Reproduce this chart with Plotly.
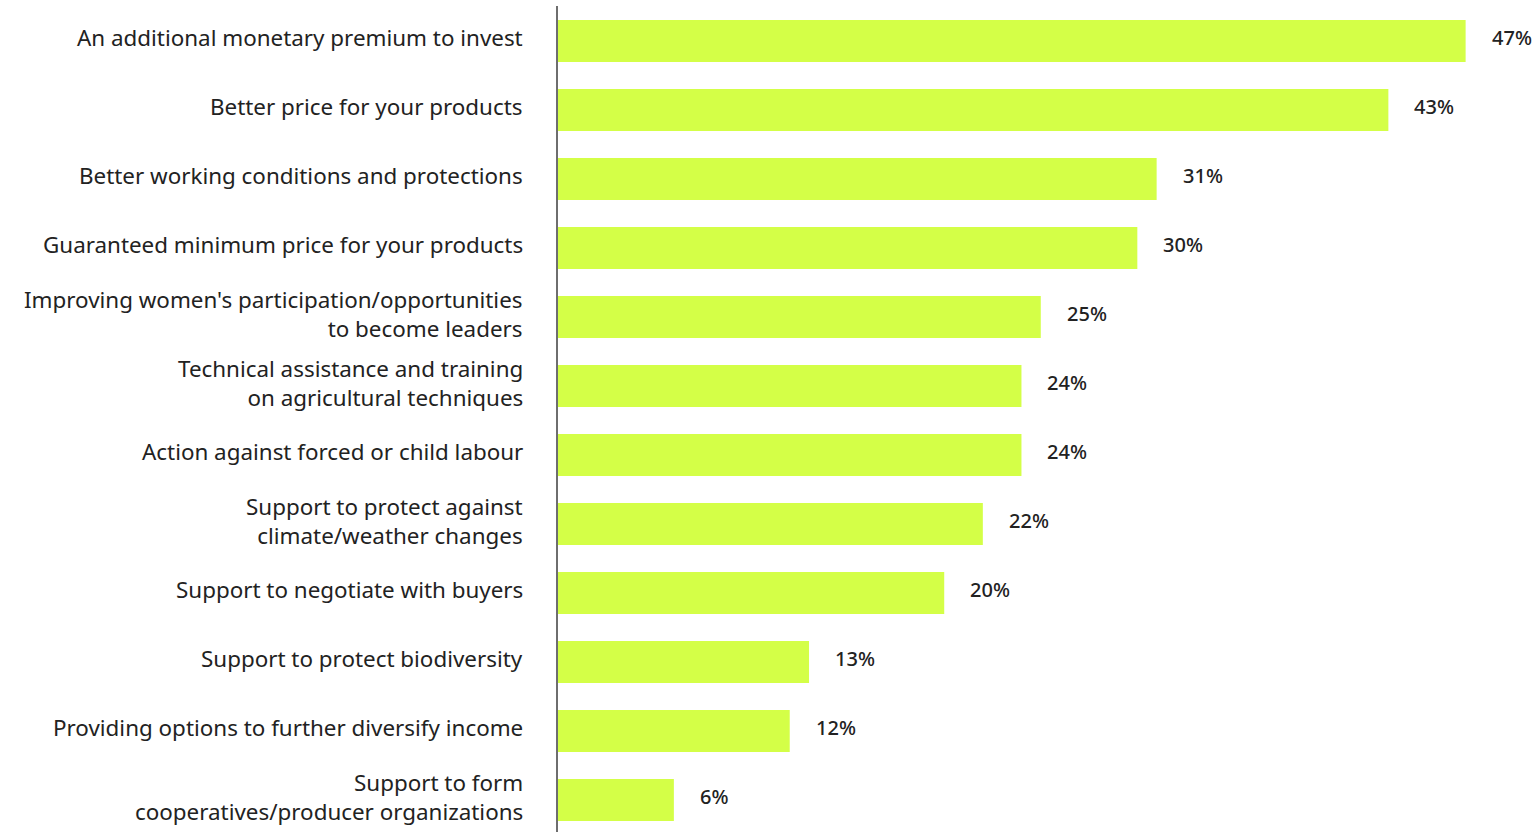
import plotly.graph_objects as go

categories = [
    "An additional monetary premium to invest",
    "Better price for your products",
    "Better working conditions and protections",
    "Guaranteed minimum price for your products",
    "Improving women's participation/opportunities<br>to become leaders",
    "Technical assistance and training<br>on agricultural techniques",
    "Action against forced or child labour",
    "Support to protect against<br>climate/weather changes",
    "Support to negotiate with buyers",
    "Support to protect biodiversity",
    "Providing options to further diversify income",
    "Support to form<br>cooperatives/producer organizations",
]
values = [47, 43, 31, 30, 25, 24, 24, 22, 20, 13, 12, 6]
value_labels = [f"{v}%" for v in values]

BAR_COLOR = "#D4FF47"
TEXT_COLOR = "#222222"
FONT = "'Noto Sans', Lato, sans-serif"

fig = go.Figure(
    go.Bar(
        x=values,
        y=categories,
        orientation="h",
        marker=dict(color=BAR_COLOR, line=dict(width=0)),
        width=0.61,
        hoverinfo="skip",
    )
)

# category labels, right-aligned left of the axis line
for cat in categories:
    fig.add_annotation(
        x=0, xref="paper", y=cat, text=cat, showarrow=False,
        xanchor="right", yanchor="middle", align="right",
        xshift=-33, yshift=3,
        font=dict(family=FONT, size=22.4, color=TEXT_COLOR),
    )

# value labels past the bar ends
for cat, v, lab in zip(categories, values, value_labels):
    fig.add_annotation(
        x=v, y=cat, text=lab, showarrow=False,
        xanchor="left", yanchor="middle", xshift=24, yshift=3,
        font=dict(family=FONT, size=20, color=TEXT_COLOR, weight=500),
    )

fig.update_layout(
    width=1539, height=832,
    margin=dict(l=558, r=0, t=6, b=0),
    paper_bgcolor="white", plot_bgcolor="white",
    showlegend=False,
    xaxis=dict(range=[0, 50.8], visible=False, fixedrange=True),
    yaxis=dict(
        type="category",
        range=[11.464, -0.507],
        showline=True, linecolor="#6e6e6e", linewidth=2,
        showgrid=False, zeroline=False, ticks="",
        showticklabels=False,
        fixedrange=True,
    ),
)

fig.write_html("out.html")
